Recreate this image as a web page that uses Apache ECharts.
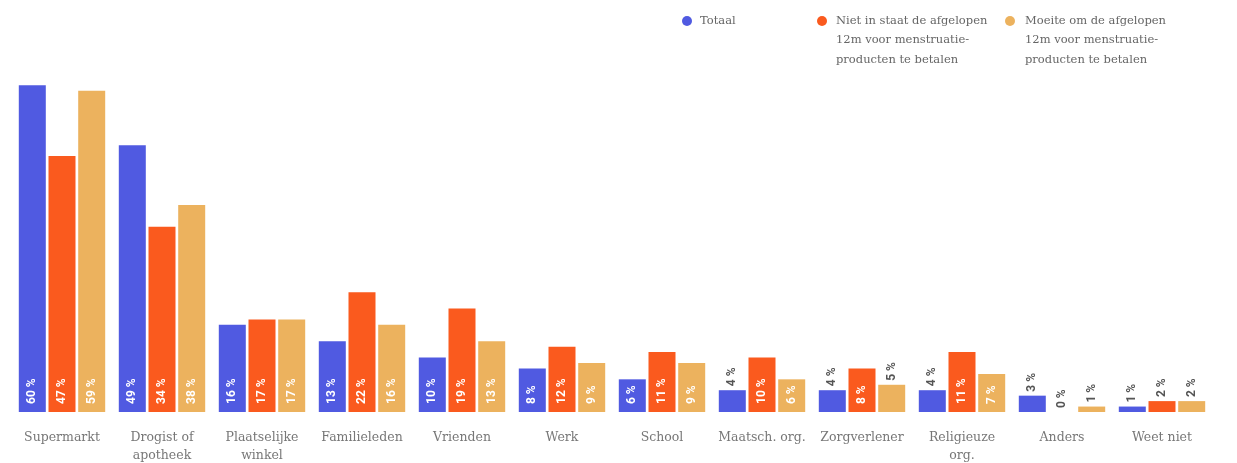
<!DOCTYPE html>
<html>
<head>
<meta charset="utf-8">
<script src="https://cdn.jsdelivr.net/npm/echarts@6/dist/echarts.min.js"></script>
<style>
html,body{margin:0;padding:0;background:#fff;}
#c{width:1237px;height:463px;}
</style>
</head>
<body>
<div id="c"></div>
<script>
const categories = ['Supermarkt','Drogist of\napotheek','Plaatselijke\nwinkel','Familieleden','Vrienden','Werk','School','Maatsch. org.','Zorgverlener','Religieuze\norg.','Anders','Weet niet'];
const seriesNames = ['Totaal','Niet in staat de afgelopen\n12m voor menstruatie-\nproducten te betalen','Moeite om de afgelopen\n12m voor menstruatie-\nproducten te betalen'];
const totaal = [60,49,16,13,10,8,6,4,4,4,3,1];
const nietInStaat = [47,34,17,22,19,12,11,10,8,11,0,2];
const moeite = [59,38,17,16,13,9,9,6,5,7,1,2];
const colors = ['#505AE1','#FA5A1E','#ECB25E'];

function makeData(vals){
  return vals.map(v => {
    const inside = v >= 6;
    return {
      value: v,
      label: inside ? {
        show: true, position: 'insideBottom', distance: 8, rotate: 90,
        align: 'left', verticalAlign: 'middle', color: '#fff',
        fontFamily: 'Roboto', fontWeight: 'bold', fontSize: 12
      } : {
        show: true, position: 'top', distance: 4, rotate: 90,
        align: 'left', verticalAlign: 'middle', color: '#555',
        fontFamily: 'Roboto', fontWeight: 'bold', fontSize: 12
      }
    };
  });
}

const allVals = [totaal, nietInStaat, moeite];
const legendX = [687, 822, 1010];
const legendTextX = [700, 836, 1025];

const legendGraphics = [];
seriesNames.forEach((n, i) => {
  legendGraphics.push({
    type: 'circle', shape: { cx: legendX[i], cy: 21, r: 5 },
    style: { fill: colors[i] }, silent: true
  });
  legendGraphics.push({
    type: 'text', x: legendTextX[i], y: 11.25,
    style: {
      text: n, fill: '#666', fontFamily: 'DejaVu Serif', fontSize: 11.5,
      lineHeight: 19.5, verticalAlign: 'top', align: 'left'
    }, silent: true
  });
});

const chart = echarts.init(document.getElementById('c'));
chart.setOption({
  animation: false,
  backgroundColor: '#fff',
  graphic: legendGraphics,
  grid: { left: 12, right: 25, top: 58, bottom: 51, containLabel: false, outerBoundsMode: 'none' },
  xAxis: {
    type: 'category',
    data: categories,
    axisLine: { show: false },
    axisTick: { show: false },
    axisLabel: {
      interval: 0, margin: 17, color: '#777',
      fontFamily: 'DejaVu Serif', fontSize: 12.5, lineHeight: 18
    }
  },
  yAxis: {
    type: 'value', min: 0, max: 65,
    show: false,
    splitLine: { show: false }
  },
  series: allVals.map((vals, i) => ({
    name: seriesNames[i],
    type: 'bar',
    data: makeData(vals),
    barWidth: 27,
    barGap: '10%',
    itemStyle: { color: colors[i] },
    label: { formatter: p => p.value + ' %' }
  }))
});
</script>
</body>
</html>
